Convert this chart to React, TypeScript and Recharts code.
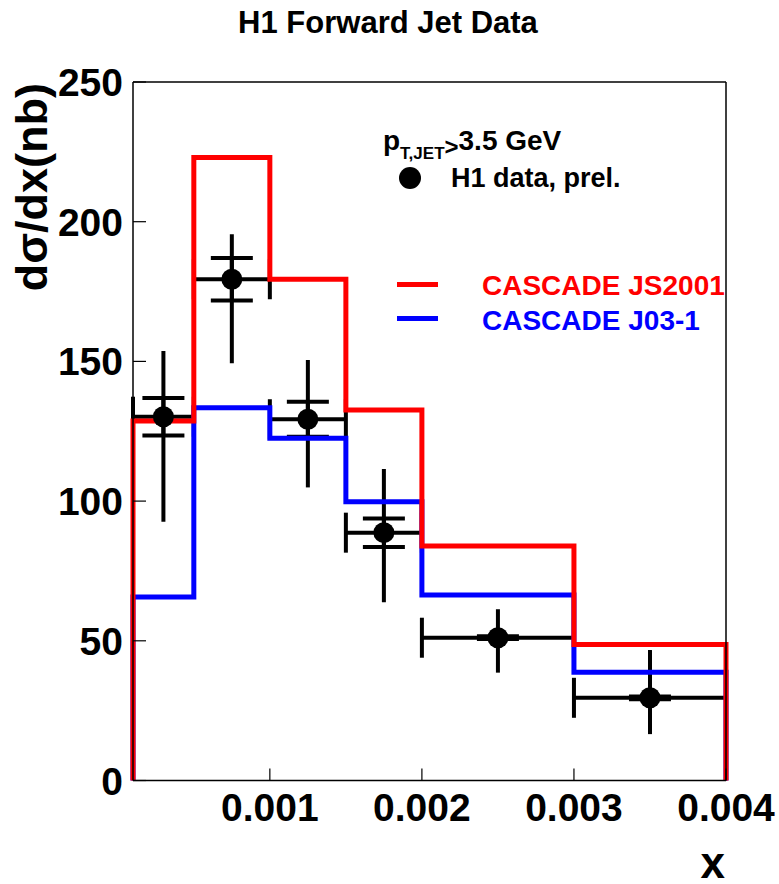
import { ComposedChart, Line, Scatter, ErrorBar, XAxis, YAxis } from "recharts";

// bin edges in x and the two CASCADE predictions (nb) per bin
const edges = [0.0001, 0.0005, 0.001, 0.0015, 0.002, 0.003, 0.004];
const js2001 = [128.7, 223.0, 179.4, 132.6, 83.9, 48.7];
const j031 = [65.7, 133.4, 122.5, 99.8, 66.4, 38.7];

// H1 data points, one per bin
const dataY = [130.2, 179.4, 129.3, 88.7, 51.1, 29.6];
const statErr = [6.7, 7.6, 6.3, 5.1, 0.5, 0.5];
const totDown = [37.6, 30.1, 24.4, 24.9, 12.5, 13.0];
const totUp = [23.5, 16.1, 21.2, 22.8, 10.2, 17.1];

const xTicks = [0.001, 0.002, 0.003, 0.004];
const yTicks = [0, 50, 100, 150, 200, 250];

const FONT = "'Liberation Sans', Arial, Helvetica, sans-serif";

const histo = (vals: number[]) => [
  { x: edges[0], y: 0 },
  ...vals.map((v, i) => ({ x: edges[i], y: v })),
  { x: edges[edges.length - 1], y: vals[vals.length - 1] },
  { x: edges[edges.length - 1], y: 0 },
];

const points = dataY.map((y, i) => {
  const half = (edges[i + 1] - edges[i]) / 2;
  return {
    x: edges[i] + half,
    y,
    ex: half,
    stat: statErr[i],
    tot: [totDown[i], totUp[i]],
  };
});

const fmtX = (v: number) => v.toFixed(3);

const BottomTick = ({ x, y, payload }: any) => (
  <g>
    <line x1={x} x2={x} y1={y} y2={y - 12} stroke="#000" strokeWidth={1.2} />
    <text x={x} y={y + 40} textAnchor="middle" fontFamily={FONT} fontWeight="bold" fontSize={39} fill="#000">
      {fmtX(payload.value)}
    </text>
  </g>
);

const TopTick = ({ x, y }: any) => (
  <line x1={x} x2={x} y1={y} y2={y + 12} stroke="#000" strokeWidth={1.2} />
);

const LeftTick = ({ x, y, payload }: any) => (
  <g>
    <line x1={x} x2={x + 13} y1={y} y2={y} stroke="#000" strokeWidth={1.2} />
    <text x={x - 10} y={y} dy="0.36em" textAnchor="end" fontFamily={FONT} fontWeight="bold" fontSize={39} fill="#000">
      {payload.value}
    </text>
  </g>
);

const RightTick = ({ x, y }: any) => (
  <line x1={x} x2={x - 13} y1={y} y2={y} stroke="#000" strokeWidth={1.2} />
);

const Dot = (p: any) => <circle cx={p.cx} cy={p.cy} r={10.5} fill="#000" />;

export default function App() {
  return (
    <div style={{ position: "absolute", left: 0, top: 0, width: 779, height: 884, background: "#fff" }}>
      <ComposedChart width={779} height={884} margin={{ top: 0, right: 0, bottom: 0, left: 0 }}>
        <XAxis
          dataKey="x"
          type="number"
          domain={[0.0001, 0.004]}
          ticks={xTicks}
          height={103.5}
          tickSize={0}
          tickMargin={0}
          tick={<BottomTick />}
          axisLine={{ stroke: "#000", strokeWidth: 1.5 }}
        />
        <XAxis
          xAxisId="top"
          orientation="top"
          type="number"
          domain={[0.0001, 0.004]}
          ticks={xTicks}
          height={82}
          tickSize={0}
          tickMargin={0}
          tick={<TopTick />}
          axisLine={{ stroke: "#000", strokeWidth: 1.5 }}
        />
        <YAxis
          type="number"
          domain={[0, 250]}
          ticks={yTicks}
          width={133}
          tickSize={0}
          tickMargin={0}
          tick={<LeftTick />}
          axisLine={{ stroke: "#000", strokeWidth: 1.5 }}
        />
        <YAxis
          yAxisId="right"
          orientation="right"
          type="number"
          domain={[0, 250]}
          ticks={yTicks}
          width={53}
          tickSize={0}
          tickMargin={0}
          tick={<RightTick />}
          axisLine={{ stroke: "#000", strokeWidth: 1.5 }}
        />
        <Scatter data={points} dataKey="y" shape={<Dot />} isAnimationActive={false}>
          <ErrorBar dataKey="tot" direction="y" width={0} stroke="#000" strokeWidth={4} />
          <ErrorBar dataKey="stat" direction="y" width={21} stroke="#000" strokeWidth={4} />
          <ErrorBar dataKey="ex" direction="x" width={20} stroke="#000" strokeWidth={4} />
        </Scatter>
        <Line
          data={histo(j031)}
          dataKey="y"
          type="stepAfter"
          stroke="#0000ff"
          strokeWidth={5}
          dot={false}
          activeDot={false}
          isAnimationActive={false}
        />
        <Line
          data={histo(js2001)}
          dataKey="y"
          type="stepAfter"
          stroke="#ff0000"
          strokeWidth={5}
          dot={false}
          activeDot={false}
          isAnimationActive={false}
        />
      </ComposedChart>

      <svg
        width={779}
        height={884}
        style={{ position: "absolute", left: 0, top: 0, pointerEvents: "none" }}
        fontFamily={FONT}
        fontWeight="bold"
      >
        <text x={388} y={33} textAnchor="middle" fontSize={31} fill="#000">
          H1 Forward Jet Data
        </text>
        <text x={47} y={83} textAnchor="end" fontSize={45} fill="#000" transform="rotate(-90 47 83)">
          dσ/dx(nb)
        </text>
        <text x={725} y={878} textAnchor="end" fontSize={44} fill="#000">
          x
        </text>

        <text x={383} y={150} fontSize={28} fill="#000">
          p
          <tspan fontSize={17} dy={9}>T,JET</tspan>
          <tspan fontSize={24} dy={-4}>&gt;</tspan>
          <tspan fontSize={28} dy={-5}>3.5 GeV</tspan>
        </text>
        <circle cx={410} cy={178} r={11} fill="#000" />
        <text x={451} y={187} fontSize={27} fill="#000">
          H1 data, prel.
        </text>

        <line x1={397} x2={438} y1={284.5} y2={284.5} stroke="#ff0000" strokeWidth={5} />
        <text x={482} y={295} fontSize={28} fill="#ff0000">
          CASCADE JS2001
        </text>
        <line x1={397} x2={438} y1={318.5} y2={318.5} stroke="#0000ff" strokeWidth={5} />
        <text x={482} y={330} fontSize={28} fill="#0000ff">
          CASCADE J03-1
        </text>
      </svg>
    </div>
  );
}
